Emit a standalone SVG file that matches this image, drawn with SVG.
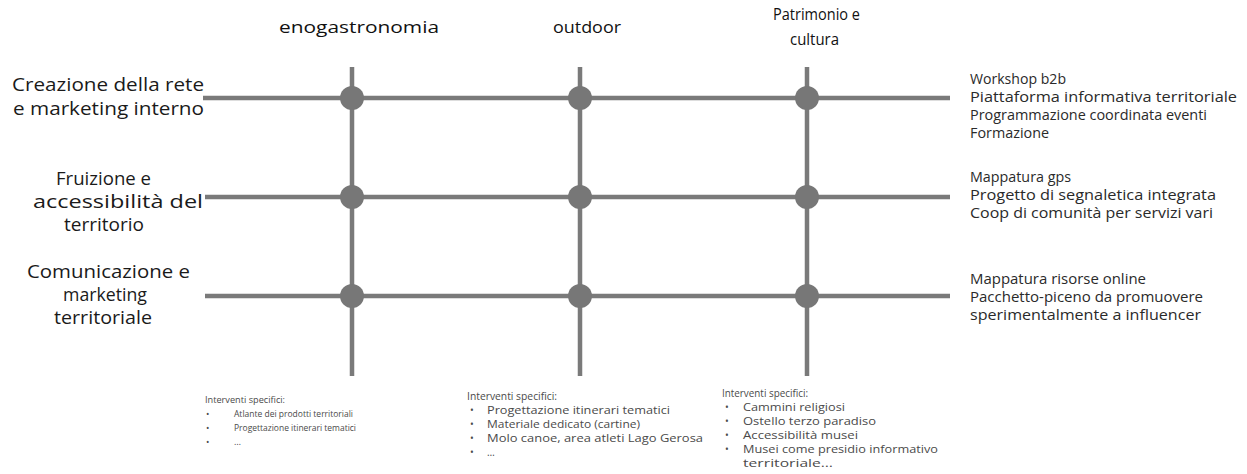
<svg xmlns="http://www.w3.org/2000/svg" width="1247" height="474" viewBox="0 0 1247 474">
<style>
.ln{stroke:#7a7a7a;stroke-width:4.5;fill:none;stroke-linecap:butt}
.dot{fill:#777}
text{font-family:"Open Sans","Noto Sans",sans-serif}
.hd{font-size:15.5px;fill:#111}
.rw{font-size:17.5px;fill:#1a1a1a}
.rt{font-size:14.5px;fill:#2a2a2a}
.bt{font-size:9px;fill:#4a4a4a}
.bt2{font-size:10px;fill:#4a4a4a}
</style>
<rect width="1247" height="474" fill="#ffffff"/>
<g id="connectors">
<line class="ln" x1="203" y1="98" x2="950" y2="98"/>
<line class="ln" x1="205" y1="197" x2="950" y2="197"/>
<line class="ln" x1="205" y1="296" x2="950" y2="296"/>
<line class="ln" x1="352" y1="67" x2="352" y2="376"/>
<line class="ln" x1="580" y1="67" x2="580" y2="376"/>
<line class="ln" x1="807" y1="67" x2="807" y2="376"/>
</g>
<g id="nodes-dots">
<circle class="dot" cx="352" cy="98" r="12"/><circle class="dot" cx="580" cy="98" r="12"/><circle class="dot" cx="807" cy="98" r="12"/>
<circle class="dot" cx="352" cy="197" r="12"/><circle class="dot" cx="580" cy="197" r="12"/><circle class="dot" cx="807" cy="197" r="12"/>
<circle class="dot" cx="352" cy="296" r="12"/><circle class="dot" cx="580" cy="296" r="12"/><circle class="dot" cx="807" cy="296" r="12"/>
</g>
<g id="col-enogastronomia"><text class="hd" x="279" y="33" textLength="160" lengthAdjust="spacingAndGlyphs">enogastronomia</text></g>
<g id="col-outdoor"><text class="hd" x="553" y="33" textLength="68" lengthAdjust="spacingAndGlyphs">outdoor</text></g>
<g id="col-patrimonio"><text class="hd" x="773" y="20" textLength="87" lengthAdjust="spacingAndGlyphs">Patrimonio e</text><text class="hd" x="790" y="45" textLength="49" lengthAdjust="spacingAndGlyphs">cultura</text></g>
<g id="row-rete"><text class="rw" x="12" y="91" textLength="192" lengthAdjust="spacingAndGlyphs">Creazione della rete</text><text class="rw" x="13" y="115" textLength="191" lengthAdjust="spacingAndGlyphs">e marketing interno</text></g>
<g id="row-fruizione"><text class="rw" x="56" y="185" textLength="95" lengthAdjust="spacingAndGlyphs">Fruizione e</text><text class="rw" x="33" y="208" textLength="170" lengthAdjust="spacingAndGlyphs">accessibilità del</text><text class="rw" x="64" y="231" textLength="80" lengthAdjust="spacingAndGlyphs">territorio</text></g>
<g id="row-comunicazione"><text class="rw" x="27" y="278" textLength="163" lengthAdjust="spacingAndGlyphs">Comunicazione e</text><text class="rw" x="63" y="301" textLength="84" lengthAdjust="spacingAndGlyphs">marketing</text><text class="rw" x="54" y="324" textLength="98" lengthAdjust="spacingAndGlyphs">territoriale</text></g>
<g id="right-rete">
<text class="rt" x="970" y="84" textLength="96" lengthAdjust="spacingAndGlyphs">Workshop b2b</text>
<text class="rt" x="970" y="102" textLength="267" lengthAdjust="spacingAndGlyphs">Piattaforma informativa territoriale</text>
<text class="rt" x="970" y="120" textLength="237" lengthAdjust="spacingAndGlyphs">Programmazione coordinata eventi</text>
<text class="rt" x="970" y="138" textLength="79" lengthAdjust="spacingAndGlyphs">Formazione</text>
</g>
<g id="right-fruizione">
<text class="rt" x="970" y="182" textLength="101" lengthAdjust="spacingAndGlyphs">Mappatura gps</text>
<text class="rt" x="970" y="200" textLength="246" lengthAdjust="spacingAndGlyphs">Progetto di segnaletica integrata</text>
<text class="rt" x="970" y="218" textLength="243" lengthAdjust="spacingAndGlyphs">Coop di comunità per servizi vari</text>
</g>
<g id="right-comunicazione">
<text class="rt" x="970" y="284" textLength="176" lengthAdjust="spacingAndGlyphs">Mappatura risorse online</text>
<text class="rt" x="970" y="302" textLength="233" lengthAdjust="spacingAndGlyphs">Pacchetto-piceno da promuovere</text>
<text class="rt" x="970" y="320" textLength="231" lengthAdjust="spacingAndGlyphs">sperimentalmente a influencer</text>
</g>
<g id="bottom-enogastronomia">
<text class="bt" x="205" y="403" textLength="80" lengthAdjust="spacingAndGlyphs">Interventi specifici:</text>
<text class="bt" x="206" y="417">•</text><text class="bt" x="234" y="417" textLength="119" lengthAdjust="spacingAndGlyphs">Atlante dei prodotti territoriali</text>
<text class="bt" x="206" y="431">•</text><text class="bt" x="234" y="431" textLength="122" lengthAdjust="spacingAndGlyphs">Progettazione itinerari tematici</text>
<text class="bt" x="206" y="445">•</text><text class="bt" x="234" y="445">…</text>
</g>
<g id="bottom-outdoor">
<text class="bt2" x="467" y="400" textLength="90" lengthAdjust="spacingAndGlyphs">Interventi specifici:</text>
<text class="bt2" x="470" y="414">•</text><text class="bt2" x="487" y="414" textLength="183" lengthAdjust="spacingAndGlyphs">Progettazione itinerari tematici</text>
<text class="bt2" x="470" y="428">•</text><text class="bt2" x="487" y="428" textLength="153" lengthAdjust="spacingAndGlyphs">Materiale dedicato (cartine)</text>
<text class="bt2" x="470" y="442">•</text><text class="bt2" x="487" y="442" textLength="216" lengthAdjust="spacingAndGlyphs">Molo canoe, area atleti Lago Gerosa</text>
<text class="bt2" x="470" y="456">•</text><text class="bt2" x="487" y="456">…</text>
</g>
<g id="bottom-patrimonio">
<text class="bt2" x="722" y="397" textLength="86" lengthAdjust="spacingAndGlyphs">Interventi specifici:</text>
<text class="bt2" x="725" y="411">•</text><text class="bt2" x="743" y="411" textLength="102" lengthAdjust="spacingAndGlyphs">Cammini religiosi</text>
<text class="bt2" x="725" y="425">•</text><text class="bt2" x="743" y="425" textLength="133" lengthAdjust="spacingAndGlyphs">Ostello terzo paradiso</text>
<text class="bt2" x="725" y="439">•</text><text class="bt2" x="743" y="439" textLength="115" lengthAdjust="spacingAndGlyphs">Accessibilità musei</text>
<text class="bt2" x="725" y="453">•</text><text class="bt2" x="743" y="453" textLength="195" lengthAdjust="spacingAndGlyphs">Musei come presidio informativo</text>
<text class="bt2" x="743" y="467" textLength="90" lengthAdjust="spacingAndGlyphs">territoriale…</text>
</g>
</svg>
